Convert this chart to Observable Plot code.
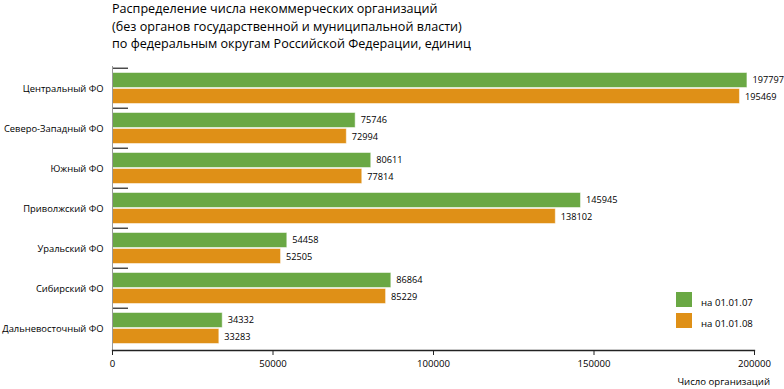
<!DOCTYPE html>
<html>
<head>
<meta charset="utf-8">
<script src="https://cdn.jsdelivr.net/npm/d3@7"></script>
<script src="https://cdn.jsdelivr.net/npm/@observablehq/plot@0.6"></script>
<style>
  html, body { margin: 0; padding: 0; background: #fff; }
  body { width: 784px; height: 389px; position: relative; overflow: hidden; font-family: "Open Sans", sans-serif; color: #000; }
  #title { position: absolute; left: 112px; top: 0px; font-size: 12.6px; line-height: 17.5px; }
  #xlabel { position: absolute; right: 14px; top: 375px; font-size: 9.6px; line-height: 14px; }
  #legend { position: absolute; left: 676px; top: 289px; font-size: 9.6px; }
  .item { display: flex; align-items: center; height: 21px; }
  .sw { width: 16px; height: 15px; margin-right: 9px; box-sizing: border-box; }
  .item span { position: relative; top: 3px; }
  #chart { position: absolute; left: 0; top: 0; }
</style>
</head>
<body>
<div id="title">Распределение числа некоммерческих организаций<br>(без органов государственной и муниципальной власти)<br>по федеральным округам Российской Федерации, единиц</div>
<div id="chart"></div>
<div id="legend"></div>
<div id="xlabel">Число организаций</div>
<script>
const categories = ["Центральный ФО", "Северо-Западный ФО", "Южный ФО", "Приволжский ФО", "Уральский ФО", "Сибирский ФО", "Дальневосточный ФО"];
const values2007 = [197797, 75746, 80611, 145945, 54458, 86864, 34332];
const values2008 = [195469, 72994, 77814, 138102, 52505, 85229, 33283];
const seriesLabels = ["на 01.01.07", "на 01.01.08"];
const seriesColors = ["#6aa844", "#df9017"];
const xTicks = [0, 50000, 100000, 150000, 200000];

const W = 784, H = 389;
const mL = 112, mR = 30, mT = 66, mB = 39;
const band = (H - mT - mB) / categories.length;

const rows = [];
categories.forEach((c, i) => {
  rows.push({cat: c, series: seriesLabels[0], value: values2007[i]});
  rows.push({cat: c, series: seriesLabels[1], value: values2008[i]});
});
const r07 = rows.filter(d => d.series === seriesLabels[0]);
const r08 = rows.filter(d => d.series === seriesLabels[1]);

const plot = Plot.plot({
  width: W, height: H,
  marginLeft: mL, marginRight: mR, marginTop: mT, marginBottom: mB,
  style: {fontFamily: "'Open Sans', sans-serif", fontSize: "9.4px", color: "#000", background: "transparent", overflow: "visible"},
  x: {domain: [0, 200000], ticks: xTicks},
  y: {domain: categories, padding: 0},
  color: {domain: seriesLabels, range: seriesColors},
  marks: [
    Plot.barX(r07, {x: "value", y: "cat", fill: "series", insetTop: 4.5, insetBottom: 20.5, stroke: "#ffffff", strokeOpacity: 0.5, strokeWidth: 1}),
    Plot.barX(r08, {x: "value", y: "cat", fill: "series", insetTop: 20.5, insetBottom: 4.5, stroke: "#ffffff", strokeOpacity: 0.5, strokeWidth: 1}),
    Plot.text(r07, {x: "value", y: "cat", text: d => String(d.value), textAnchor: "start", dx: 5, dy: -8, fill: "#000", fontSize: 9.2}),
    Plot.text(r08, {x: "value", y: "cat", text: d => String(d.value), textAnchor: "start", dx: 5, dy: 9, fill: "#000", fontSize: 9.2}),
    Plot.ruleY(categories, {y: d => d, dy: -band / 2, stroke: "#222", strokeWidth: 1.2, insetRight: (W - mL - mR) - 16}),
    Plot.frame({anchor: "left", stroke: "#999", strokeWidth: 1}),
    Plot.frame({anchor: "bottom", stroke: "#222", strokeWidth: 1.3}),
    Plot.axisX({ticks: xTicks, tickSize: 5, tickPadding: 5, tickFormat: d => String(d), label: null, stroke: "#222", fontSize: 9.6}),
    Plot.axisY({tickSize: 0, tickPadding: 9, label: null, fontSize: 9.4})
  ]
});
document.getElementById("chart").appendChild(plot);

const legend = document.getElementById("legend");
seriesLabels.forEach((s, i) => {
  const item = document.createElement("div");
  item.className = "item";
  const sw = document.createElement("div");
  sw.className = "sw";
  sw.style.background = seriesColors[i];
  const t = document.createElement("span");
  t.textContent = s;
  item.appendChild(sw); item.appendChild(t);
  legend.appendChild(item);
});
</script>
</body>
</html>
